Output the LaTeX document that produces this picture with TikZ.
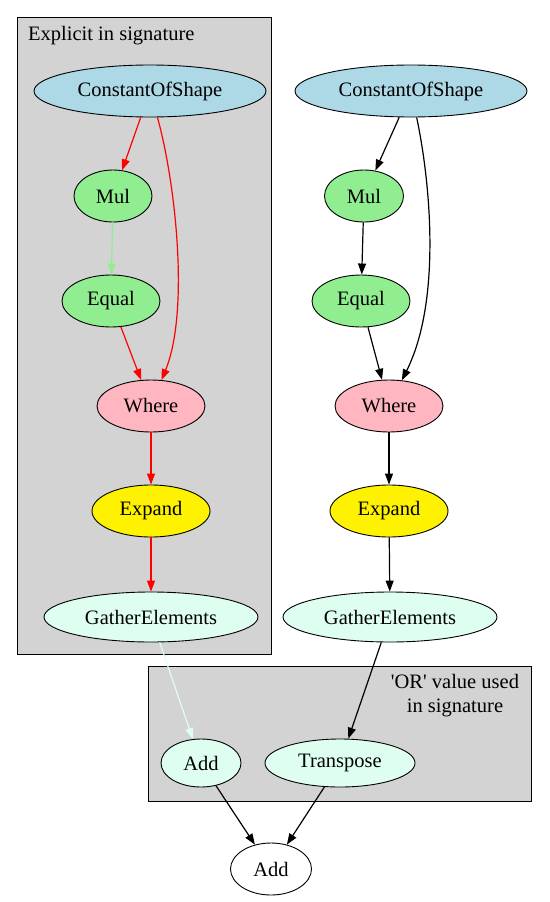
\documentclass[tikz,border=0pt]{standalone}
\usepackage{fontspec}
\setmainfont{Liberation Serif}
\usepackage{xcolor}
\usetikzlibrary{arrows.meta,positioning,shapes.geometric}
\definecolor{constblue}{RGB}{173,216,230}
\definecolor{opgreen}{RGB}{144,238,144}
\definecolor{oppink}{RGB}{255,182,193}
\definecolor{opmint}{RGB}{222,255,240}
\definecolor{clustergray}{RGB}{211,211,211}
\tikzset{
  op/.style={ellipse,draw,line width=0.9pt,inner sep=0pt,font=\fontsize{20.5}{23}\selectfont,
    minimum height=52pt},
  cluster/.style={draw,line width=1pt,fill=clustergray},
  clusterlabel/.style={font=\fontsize{20.5}{24}\selectfont,inner sep=0pt},
  flow/.style={line width=1.2pt,-{Triangle[length=11pt,width=8pt]}},
  depgraph/.style={
    x=1pt,y=-1pt,
    every edge/.style={draw,flow}
  }
}
\begin{document}
\begin{tikzpicture}[depgraph]
      \useasboundingbox (0,0) rectangle (549,902);
      % clusters
      \draw[cluster] (17,17) rectangle (271,654);
      \node[clusterlabel,anchor=west] (lblL) at (28,36) {Explicit in signature};
      \draw[cluster] (148,666) rectangle (531,801);
      \node[clusterlabel,align=center] (lblOr) at (455,696) {\textquotesingle OR\textquotesingle{} value used\\in signature};
      % left chain
      \node[op,fill=constblue,minimum width=232pt] (cL) at (150,91) {ConstantOfShape};
      \node[op,fill=opgreen,minimum width=78pt] (mulL) at (113,196) {Mul};
      \node[op,fill=opgreen,minimum width=98pt] (eqL) at (111,301) {Equal};
      \node[op,fill=oppink,minimum width=108pt] (whL) at (151,406) {Where};
      \node[op,fill=yellow,minimum width=118pt] (exL) at (151,511) {Expand};
      \node[op,fill=opmint,minimum width=214pt,minimum height=50pt] (gaL) at (151,617) {GatherElements};
      % right chain
      \node[op,fill=constblue,minimum width=232pt] (cR) at (411,91) {ConstantOfShape};
      \node[op,fill=opgreen,minimum width=79pt] (mulR) at (364,196) {Mul};
      \node[op,fill=opgreen,minimum width=98pt] (eqR) at (361,301) {Equal};
      \node[op,fill=oppink,minimum width=108pt] (whR) at (389,406) {Where};
      \node[op,fill=yellow,minimum width=118pt] (exR) at (389,511) {Expand};
      \node[op,fill=opmint,minimum width=214pt,minimum height=50pt] (gaR) at (390,617) {GatherElements};
      % bottom
      \node[op,fill=opmint,minimum width=80pt,minimum height=48pt] (addA) at (201,763) {Add};
      \node[op,fill=opmint,minimum width=150pt,minimum height=48pt] (tr) at (340,763) {Transpose};
      \node[op,fill=white,minimum width=81pt] (addB) at (271,869) {Add};
      \path
      (cL) edge[red] (mulL)
      (eqL) edge[red] (whL)
      (whL) edge[red] (exL)
      (exL) edge[red] (gaL)
      (mulL) edge[opgreen] (eqL)
      (gaL) edge[opmint] (addA);
      \draw[red,flow] (cL) .. controls (175,180) and (190,310) .. (whL);
      \path
      (cR) edge (mulR)
      (mulR) edge (eqR)
      (eqR) edge (whR)
      (whR) edge (exR)
      (exR) edge (gaR)
      (gaR) edge (tr)
      (addA) edge (addB)
      (tr) edge (addB);
      \draw[flow] (cR) .. controls (430,180) and (442,300) .. (whR);
\end{tikzpicture}
\end{document}
